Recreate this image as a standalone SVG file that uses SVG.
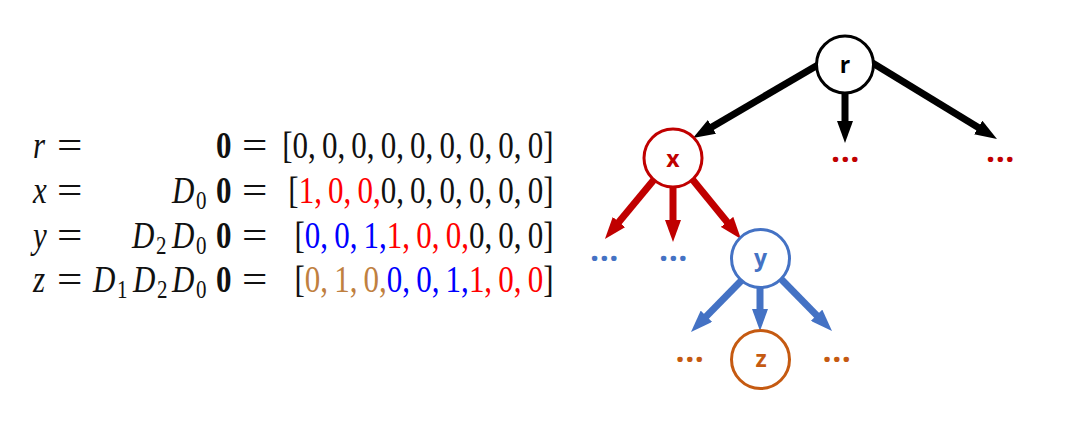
<svg xmlns="http://www.w3.org/2000/svg" width="1066" height="426" viewBox="0 0 1066 426">
<defs>
<style>
.m{font-family:"Liberation Serif","Times New Roman",serif;font-size:31px;fill:#111}
.i{font-style:italic}
.b{font-weight:bold}
.s{font-size:21px}
.rd{fill:#FF0000}.bl{fill:#0000FF}.br{fill:#BF8040}
.lbl{font-family:"Open Sans","DejaVu Sans",sans-serif;font-weight:bold;font-size:23px;text-anchor:middle}
.dots{font-family:"Open Sans","DejaVu Sans",sans-serif;font-weight:bold;font-size:32px;letter-spacing:0.6px;text-anchor:middle}
.node{fill:#fff;stroke-width:3}
.ck{stroke:#000;stroke-width:7;fill:none}
.cr{stroke:#C00000;stroke-width:7;fill:none}
.cb{stroke:#4472C4;stroke-width:7;fill:none}
</style>
<marker id="ak" markerUnits="userSpaceOnUse" markerWidth="22" markerHeight="16" refX="4" refY="8" orient="auto" viewBox="0 0 22 16"><path d="M0,0 L22,8 L0,16 z" fill="#000"/></marker>
<marker id="ar" markerUnits="userSpaceOnUse" markerWidth="22" markerHeight="16" refX="4" refY="8" orient="auto" viewBox="0 0 22 16"><path d="M0,0 L22,8 L0,16 z" fill="#C00000"/></marker>
<marker id="ab" markerUnits="userSpaceOnUse" markerWidth="22" markerHeight="16" refX="4" refY="8" orient="auto" viewBox="0 0 22 16"><path d="M0,0 L22,8 L0,16 z" fill="#4472C4"/></marker>
</defs>
<rect width="1066" height="426" fill="#fff"/>

<g id="equations">
<!-- row 1 -->
<text class="m i" transform="translate(33,158) scale(1,1.2)">r</text>
<text class="m" transform="translate(57,158) scale(1.45,1.2)">=</text>
<text class="m b" transform="translate(216,158) scale(1,1.2)">0</text>
<text class="m" transform="translate(242,158) scale(1.45,1.2)">=</text>
<text class="m" text-anchor="end" word-spacing="-1.6" transform="translate(553.5,158) scale(1,1.2)">[0, 0, 0, 0, 0, 0, 0, 0, 0]</text>
<!-- row 2 -->
<text class="m i" transform="translate(33,202.5) scale(1,1.2)">x</text>
<text class="m" transform="translate(57,202.5) scale(1.45,1.2)">=</text>
<text class="m i" transform="translate(172,202.5) scale(1,1.2)">D</text>
<text class="m s" transform="translate(196,208.5) scale(1,1.2)">0</text>
<text class="m b" transform="translate(216,202.5) scale(1,1.2)">0</text>
<text class="m" transform="translate(242,202.5) scale(1.45,1.2)">=</text>
<text class="m" text-anchor="end" word-spacing="-1.6" transform="translate(553.5,202.5) scale(1,1.2)">[<tspan class="rd">1, 0, 0,</tspan>0, 0, 0, 0, 0, 0]</text>
<!-- row 3 -->
<text class="m i" transform="translate(33,247.5) scale(1,1.2)">y</text>
<text class="m" transform="translate(57,247.5) scale(1.45,1.2)">=</text>
<text class="m i" transform="translate(132,247.5) scale(1,1.2)">D</text>
<text class="m s" transform="translate(156,253.5) scale(1,1.2)">2</text>
<text class="m i" transform="translate(172,247.5) scale(1,1.2)">D</text>
<text class="m s" transform="translate(196,253.5) scale(1,1.2)">0</text>
<text class="m b" transform="translate(216,247.5) scale(1,1.2)">0</text>
<text class="m" transform="translate(242,247.5) scale(1.45,1.2)">=</text>
<text class="m" text-anchor="end" word-spacing="-1.6" transform="translate(553.5,247.5) scale(1,1.2)">[<tspan class="bl">0, 0, 1,</tspan><tspan class="rd">1, 0, 0,</tspan>0, 0, 0]</text>
<!-- row 4 -->
<text class="m i" transform="translate(33,291.5) scale(1,1.2)">z</text>
<text class="m" transform="translate(57,291.5) scale(1.45,1.2)">=</text>
<text class="m i" transform="translate(93,291.5) scale(1,1.2)">D</text>
<text class="m s" transform="translate(117,297.5) scale(1,1.2)">1</text>
<text class="m i" transform="translate(133,291.5) scale(1,1.2)">D</text>
<text class="m s" transform="translate(157,297.5) scale(1,1.2)">2</text>
<text class="m i" transform="translate(172,291.5) scale(1,1.2)">D</text>
<text class="m s" transform="translate(196,297.5) scale(1,1.2)">0</text>
<text class="m b" transform="translate(216,291.5) scale(1,1.2)">0</text>
<text class="m" transform="translate(242,291.5) scale(1.45,1.2)">=</text>
<text class="m" text-anchor="end" word-spacing="-1.6" transform="translate(553.5,291.5) scale(1,1.2)">[<tspan class="br">0, 1, 0,</tspan><tspan class="bl">0, 0, 1,</tspan><tspan class="rd">1, 0, 0</tspan>]</text>
</g>

<g id="connectors">
<line class="ck" x1="823" y1="62" x2="708.5" y2="128.9" marker-end="url(#ak)"/>
<line class="ck" x1="845" y1="80" x2="845" y2="125" marker-end="url(#ak)"/>
<line class="ck" x1="866" y1="59" x2="981.6" y2="129.6" marker-end="url(#ak)"/>
<line class="cr" x1="657" y1="176" x2="616.4" y2="225.1" marker-end="url(#ar)"/>
<line class="cr" x1="673" y1="175" x2="673" y2="224" marker-end="url(#ar)"/>
<line class="cr" x1="688" y1="174" x2="729.6" y2="225" marker-end="url(#ar)"/>
<line class="cb" x1="745.6" y1="276.3" x2="703.6" y2="319.1" marker-end="url(#ab)"/>
<line class="cb" x1="760" y1="275" x2="760" y2="313" marker-end="url(#ab)"/>
<line class="cb" x1="776.4" y1="274.3" x2="819.4" y2="318.1" marker-end="url(#ab)"/>
</g>

<g id="node-r">
<circle class="node" cx="845" cy="64.5" r="28.5" stroke="#000"/>
<text class="lbl" x="845" y="73" fill="#000">r</text>
</g>
<g id="node-x">
<circle class="node" cx="673" cy="158" r="29" stroke="#C00000"/>
<text class="lbl" x="673" y="166.5" fill="#C00000">x</text>
</g>
<g id="node-y">
<circle class="node" cx="760.5" cy="258.5" r="29" stroke="#4472C4"/>
<text class="lbl" x="760.5" y="266" fill="#4472C4">y</text>
</g>
<g id="node-z">
<circle class="node" cx="760.5" cy="359.5" r="29" stroke="#C55A11"/>
<text class="lbl" x="761" y="367" fill="#C55A11">z</text>
</g>

<g id="dots-r-mid"><text class="dots" x="845.5" y="162" fill="#C00000">...</text></g>
<g id="dots-r-right"><text class="dots" x="1000.5" y="162" fill="#C00000">...</text></g>
<g id="dots-x-left"><text class="dots" x="604.5" y="261" fill="#4472C4">...</text></g>
<g id="dots-x-mid"><text class="dots" x="673.5" y="261" fill="#4472C4">...</text></g>
<g id="dots-y-left"><text class="dots" x="690" y="362" fill="#C55A11">...</text></g>
<g id="dots-y-right"><text class="dots" x="837" y="362" fill="#C55A11">...</text></g>
</svg>
